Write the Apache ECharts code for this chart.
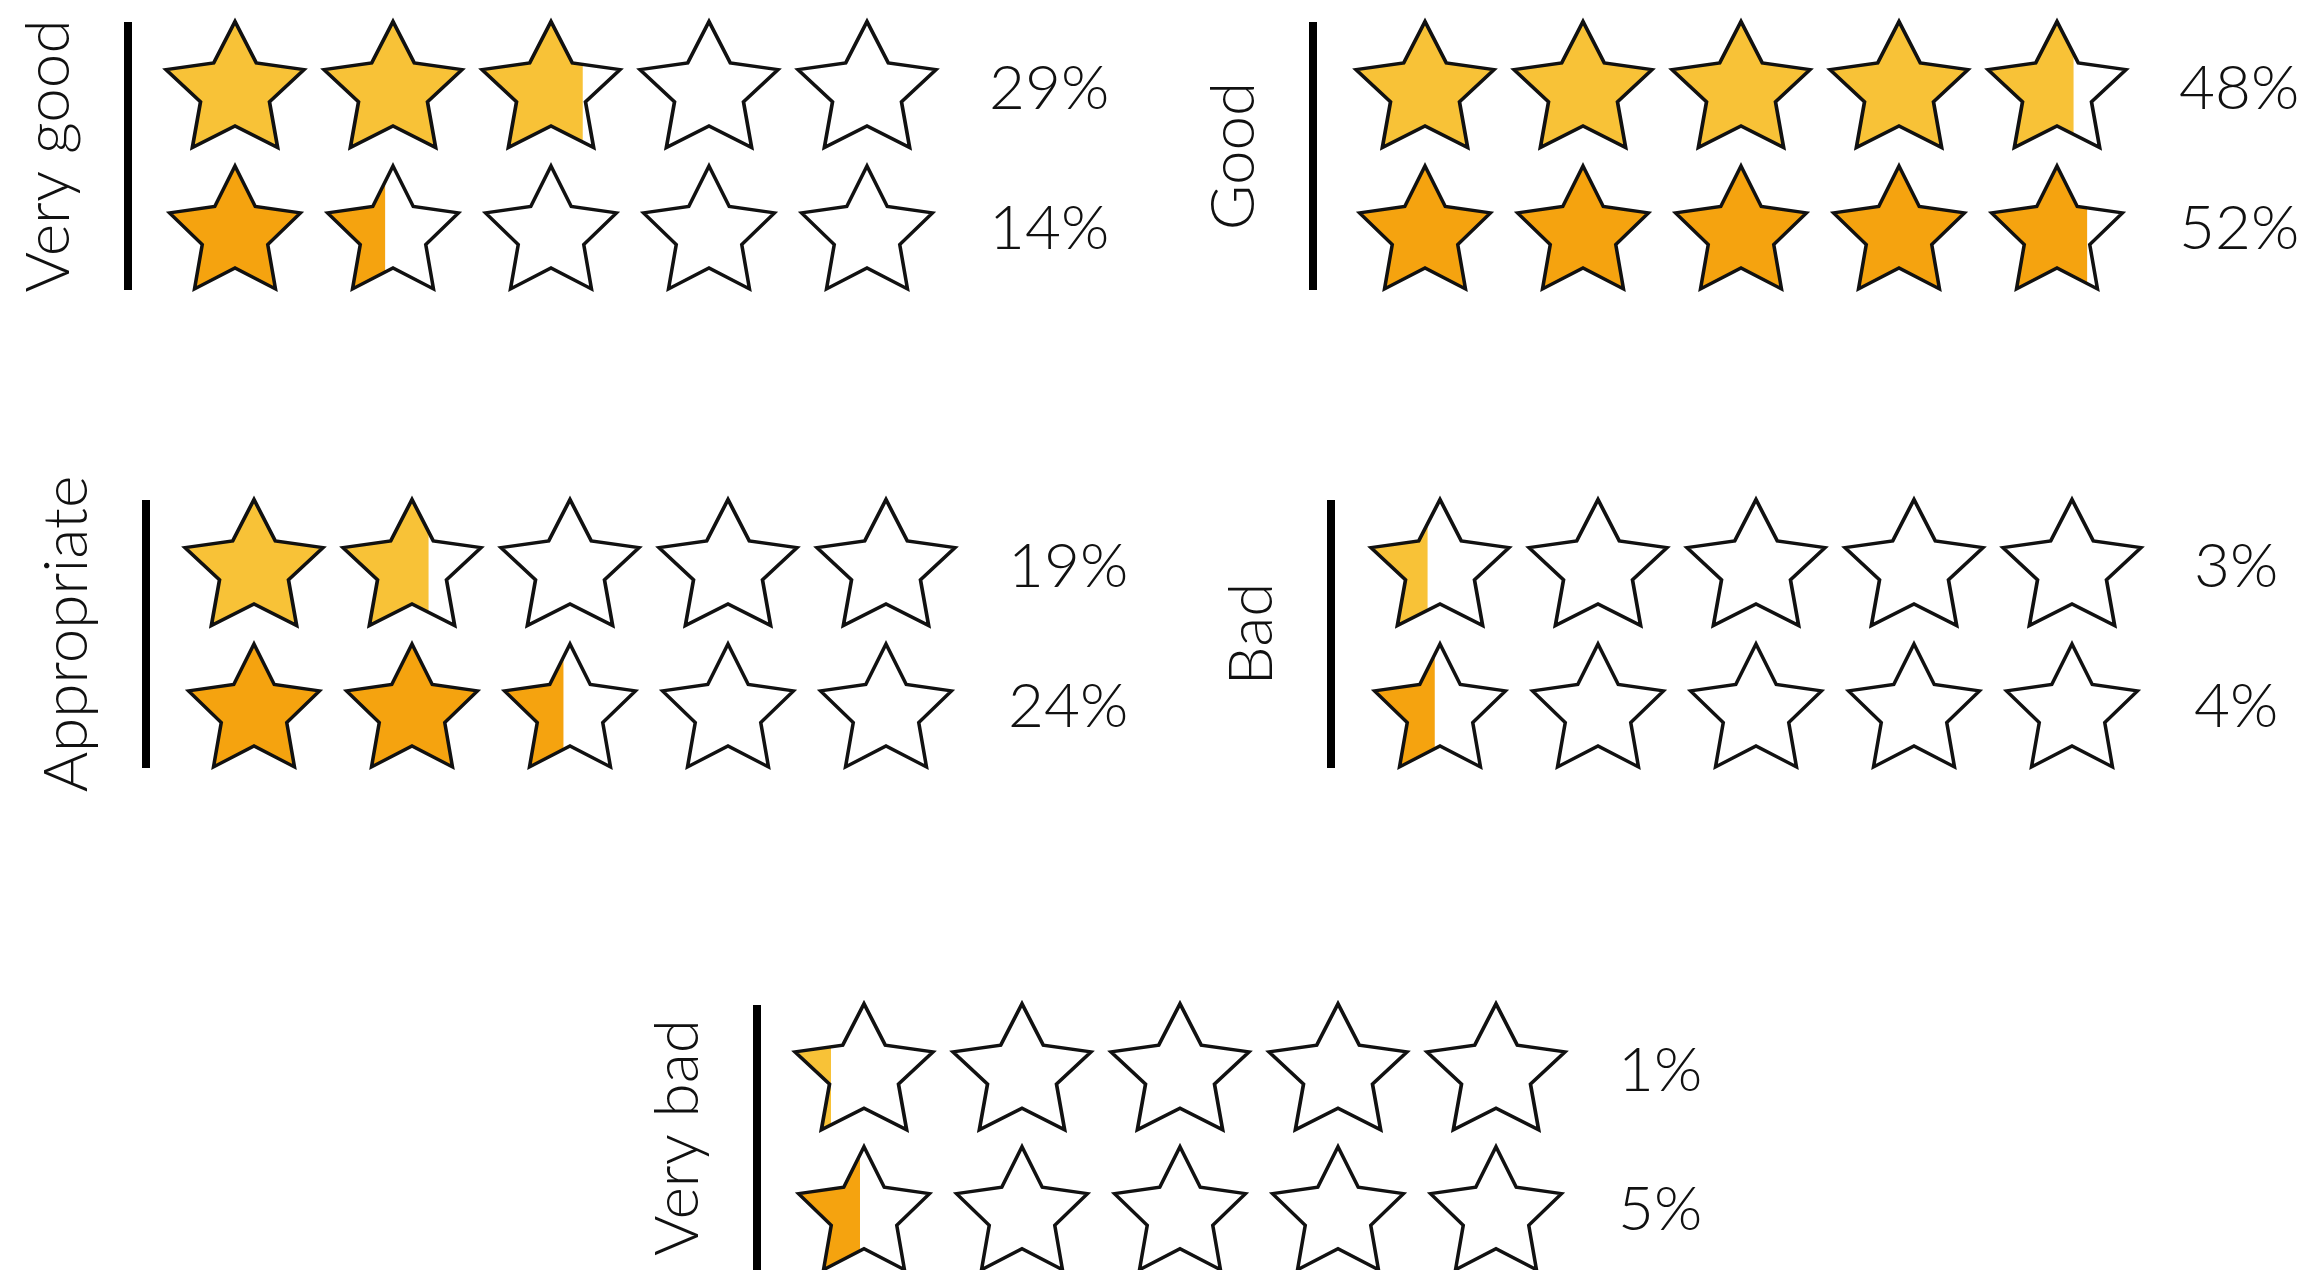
<!DOCTYPE html>
<html><head><meta charset="utf-8">
<script src="https://cdn.jsdelivr.net/npm/echarts@6/dist/echarts.min.js"></script>
<style>html,body{margin:0;padding:0;background:#fff}#c{width:2308px;height:1270px}</style>
</head><body><div id="c"></div>
<script>
// ---- data ----
const categories = ['Very good', 'Good', 'Appropriate', 'Bad', 'Very bad'];
const rowNames = ['Row 1', 'Row 2'];
const pctRow1 = [29, 48, 19, 3, 1];      // upper row percentages
const pctRow2 = [14, 52, 24, 4, 5];      // lower row percentages
const starsRow1 = [2.73, 4.62, 1.62, 0.41, 0.26]; // filled stars, upper row
const starsRow2 = [1.44, 4.73, 2.45, 0.46, 0.47]; // filled stars, lower row

// ---- style / layout ----
const rowColors = ['#F8C237', '#F5A30F'];
const SLOT = 158, GRID_W = 790, GRID_H = 268;
const STAR_SIZES = [[138, 126], [131, 123]];
const STAR_SHIFT = [-4.5, 4.5];
const LABEL_SHIFT = [0, 6];
const panels = [
  { left: 156,  top: 22,   offset: 28 },
  { left: 1346, top: 22,   offset: 33 },
  { left: 175,  top: 500,  offset: 29 },
  { left: 1361, top: 500,  offset: 30 },
  { left: 785,  top: 1005, offset: 28 }
];
const FONT = 'Lato';

function starPath(R, r) {
  let d = '';
  for (let i = 0; i < 10; i++) {
    const a = (-90 + i * 36) * Math.PI / 180;
    const rad = i % 2 === 0 ? R : r;
    d += (i === 0 ? 'M' : 'L') + (rad * Math.cos(a)).toFixed(3) + ' ' + (rad * Math.sin(a)).toFixed(3) + ' ';
  }
  return 'path://' + d + 'Z';
}
const STAR = starPath(100, 50);

// stars filled -> position on the slot axis (each star centred in a slot)
function toSlots(stars, starW) {
  const n = Math.floor(stars), f = stars - n;
  const v = n + ((SLOT - starW) / 2 + f * starW) / SLOT;
  return Math.min(v, 5);
}

const grid = [], xAxis = [], yAxis = [], series = [];
categories.forEach((cat, i) => {
  const p = panels[i];
  grid.push({ left: p.left, top: p.top, width: GRID_W, height: GRID_H, containLabel: false });
  xAxis.push({ gridIndex: i, type: 'value', min: 0, max: 5, show: false });
  yAxis.push({
    gridIndex: i, type: 'category', data: rowNames, inverse: true, offset: p.offset,
    axisLine: { show: true, onZero: false, lineStyle: { color: '#000', width: 8, cap: 'butt' } },
    axisTick: { show: false }, axisLabel: { show: false }, splitLine: { show: false },
    name: cat, nameLocation: 'middle', nameGap: 48,
    nameTextStyle: { fontFamily: FONT, fontSize: 62, fontWeight: 300, color: '#111', lineHeight: 62 }
  });
  const pcts = [pctRow1[i], pctRow2[i]];
  const fills = [starsRow1[i], starsRow2[i]];
  series.push({
    type: 'pictorialBar', xAxisIndex: i, yAxisIndex: i, z: 2,
    symbol: STAR, symbolRepeat: 5, symbolMargin: '0!', symbolClip: true, symbolBoundingData: 5,
    symbolPatternSize: 130,
    barGap: '-100%', silent: true, animation: false,
    data: [0, 1].map(r => ({
      value: toSlots(fills[r], STAR_SIZES[r][0]),
      symbolSize: STAR_SIZES[r],
      symbolOffset: [0, STAR_SHIFT[r]],
      itemStyle: { color: rowColors[r], borderWidth: 0 }
    }))
  });
  series.push({
    type: 'pictorialBar', xAxisIndex: i, yAxisIndex: i, z: 3,
    symbol: STAR, symbolRepeat: 5, symbolMargin: '0!', symbolBoundingData: 5,
    symbolPatternSize: 130,
    barGap: '-100%', silent: true, animation: false,
    label: {
      show: true, position: 'right', distance: 43,
      fontFamily: FONT, fontSize: 62, fontWeight: 300, color: '#111',
      formatter: prm => pcts[prm.dataIndex] + '%'
    },
    data: [0, 1].map(r => ({
      value: 5,
      symbolSize: STAR_SIZES[r],
      symbolOffset: [0, STAR_SHIFT[r]],
      label: { offset: [0, LABEL_SHIFT[r]] },
      itemStyle: { color: 'rgba(0,0,0,0)', borderColor: '#111', borderWidth: 3.5, borderJoin: 'miter' }
    }))
  });
});

const chart = echarts.init(document.getElementById('c'), null, { renderer: 'canvas' });
chart.setOption({ backgroundColor: '#fff', animation: false, grid, xAxis, yAxis, series });
</script></body></html>
